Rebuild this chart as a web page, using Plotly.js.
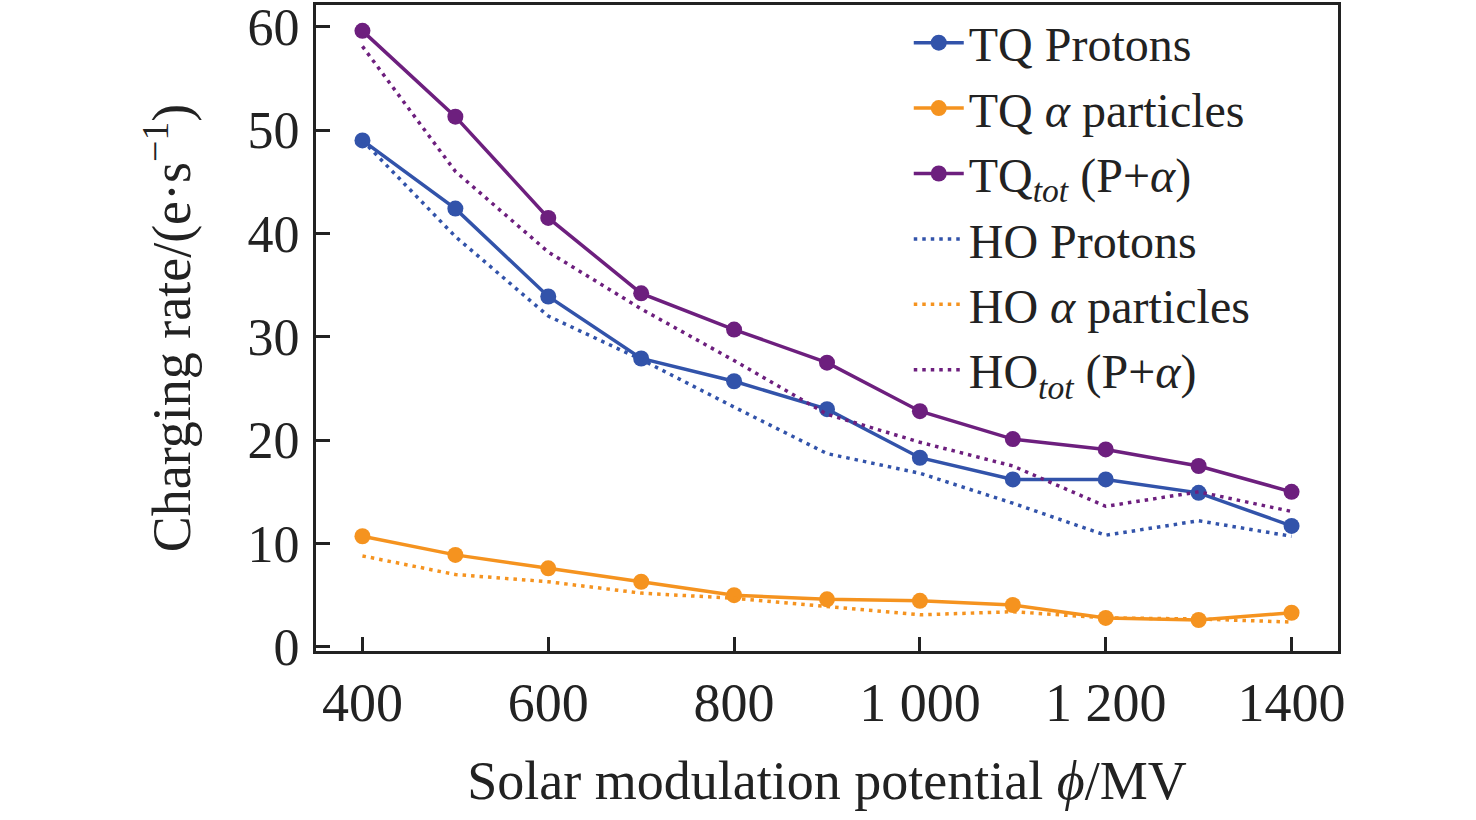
<!DOCTYPE html>
<html>
<head>
<meta charset="utf-8">
<script src="https://cdn.plot.ly/plotly-3.0.1.min.js"></script>
<style>
  html, body { margin: 0; padding: 0; background: #fff; }
  #chart { width: 1476px; height: 820px; }
</style>
</head>
<body>
<div id="chart"></div>
<script>
// solar modulation potential (MV)
var phi = [400, 500, 600, 700, 800, 900, 1000, 1100, 1200, 1300, 1400];

// charging rates (e/s)
var tqProtons = [49.0, 42.4, 33.9, 27.9, 25.7, 23.0, 18.3, 16.2, 16.2, 14.9, 11.7];
var tqAlpha   = [10.7, 8.9, 7.6, 6.3, 5.0, 4.6, 4.45, 4.05, 2.8, 2.6, 3.3];
var tqTotal   = [59.6, 51.3, 41.5, 34.2, 30.7, 27.5, 22.8, 20.1, 19.1, 17.5, 15.0];
var hoProtons = [49.0, 39.7, 32.0, 27.8, 23.2, 18.7, 16.8, 13.9, 10.8, 12.2, 10.7];
var hoAlpha   = [8.8, 7.0, 6.3, 5.2, 4.7, 3.9, 3.1, 3.4, 2.8, 2.7, 2.4];
var hoTotal   = [58.1, 46.0, 38.2, 32.7, 27.7, 22.5, 19.8, 17.5, 13.6, 15.0, 13.1];

var xTickVals = [400, 600, 800, 1000, 1200, 1400];
var xTickText = ['400', '600', '800', '1 000', '1 200', '1400'];
var yTickVals = [0, 10, 20, 30, 40, 50, 60];

var blue = '#3253aa';
var orange = '#f5931f';
var purple = '#6d1f7e';

function solid(name, y, color) {
    return {
        type: 'scatter',
        mode: 'lines+markers',
        name: name,
        x: phi,
        y: y,
        line: {color: color, width: 3.5},
        marker: {color: color, size: 16}
    };
}

function dotted(name, y, color) {
    return {
        type: 'scatter',
        mode: 'lines',
        name: name,
        x: phi,
        y: y,
        line: {color: color, width: 3.5, dash: '3.5px,5px'}
    };
}

var data = [
    solid('TQ Protons', tqProtons, blue),
    solid('TQ <i>α</i> particles', tqAlpha, orange),
    solid('TQ<sub><i>tot</i></sub> (P+<i>α</i>)', tqTotal, purple),
    dotted('HO Protons', hoProtons, blue),
    dotted('HO <i>α</i> particles', hoAlpha, orange),
    dotted('HO<sub><i>tot</i></sub> (P+<i>α</i>)', hoTotal, purple)
];

var font = 'Liberation Serif, Times New Roman, serif';

var layout = {
    width: 1476,
    height: 820,
    margin: {l: 316, r: 138, t: 5, b: 169},
    paper_bgcolor: '#fff',
    plot_bgcolor: '#fff',
    font: {family: font, color: '#222', size: 54},
    showlegend: true,
    legend: {
        x: 0.58,
        y: 1.0,
        xanchor: 'left',
        yanchor: 'top',
        bgcolor: 'rgba(0,0,0,0)',
        font: {family: font, size: 48, color: '#222'},
        itemwidth: 50,
        tracegroupgap: 0
    },
    xaxis: {
        range: [350, 1450],
        tickvals: xTickVals,
        ticktext: xTickText,
        ticks: 'inside',
        ticklen: 14,
        tickwidth: 3,
        tickcolor: '#222',
        showline: true,
        linewidth: 3,
        linecolor: '#222',
        mirror: true,
        showgrid: false,
        zeroline: false,
        tickfont: {family: font, size: 54},
        ticklabelstandoff: 2,
        ticklabeloverflow: 'allow',
        title: {
            text: 'Solar modulation potential <i>ϕ</i>/MV',
            font: {family: font, size: 54},
            standoff: 30
        }
    },
    yaxis: {
        range: [-0.4, 62.1],
        tickvals: yTickVals,
        ticks: 'inside',
        ticklen: 14,
        tickwidth: 3,
        tickcolor: '#222',
        showline: true,
        linewidth: 3,
        linecolor: '#222',
        mirror: true,
        showgrid: false,
        zeroline: false,
        tickfont: {family: font, size: 52},
        ticklabelstandoff: 3,
        ticklabeloverflow: 'allow',
        title: {
            text: 'Charging rate/(e·s<sup>−1</sup>)',
            font: {family: font, size: 54},
            standoff: 40
        }
    }
};

Plotly.newPlot('chart', data, layout, {displayModeBar: false, staticPlot: true});
</script>
</body>
</html>
